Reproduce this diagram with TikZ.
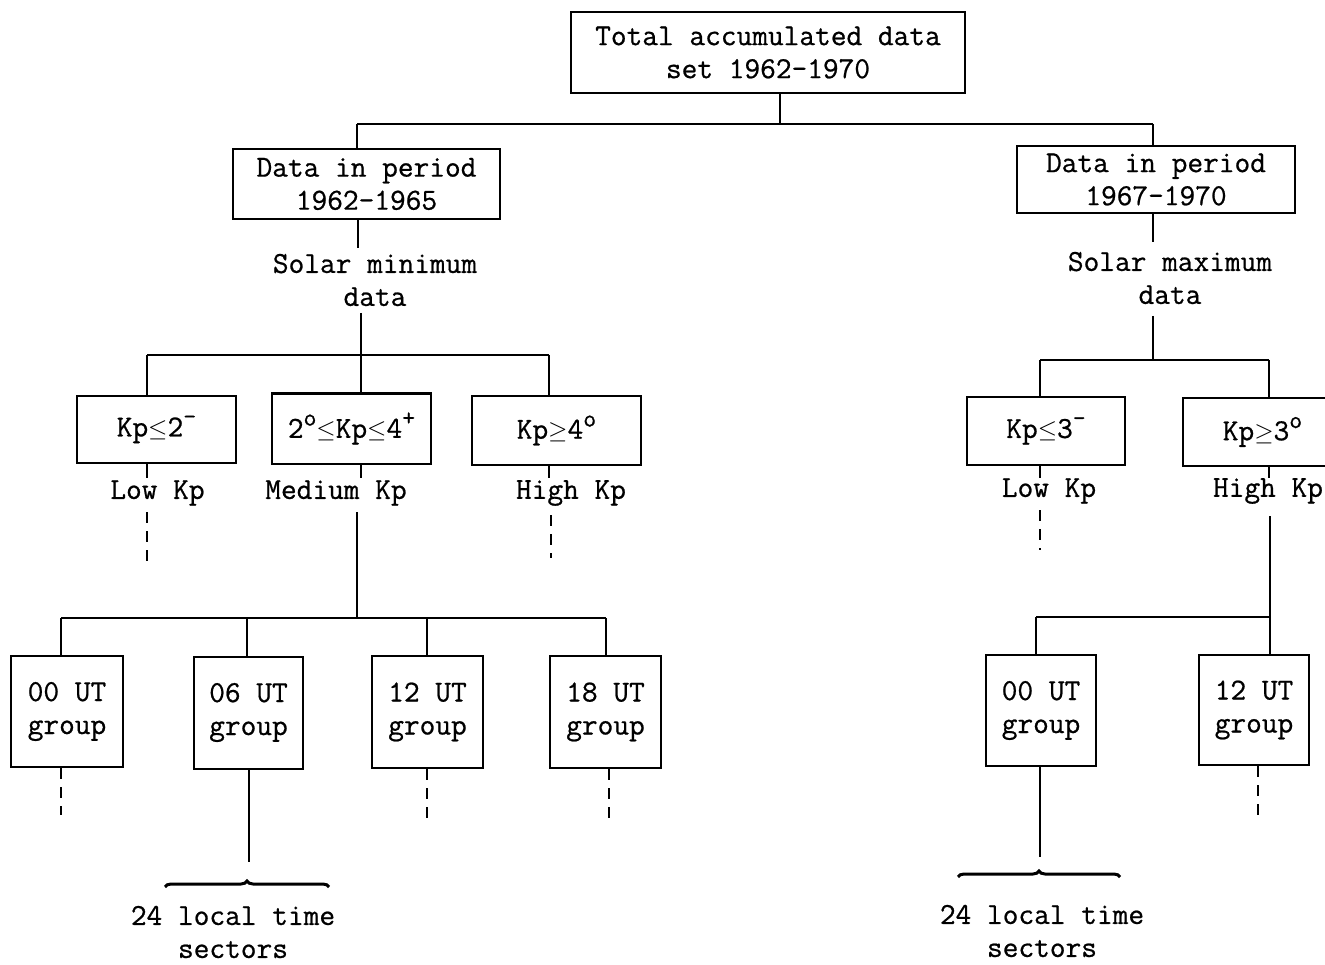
\documentclass[tikz,border=0pt]{standalone}
\usepackage{fontspec}
\newfontfamily\twfont[FakeBold=0.7]{Latin Modern Mono}
\usetikzlibrary{decorations.pathreplacing}
\newcommand{\supr}[1]{\raisebox{0.4em}{\fontsize{25}{25}\selectfont #1}}
\begin{document}
\begin{tikzpicture}[x=1pt,y=-1pt,line width=2pt,
  every node/.style={font=\twfont\fontsize{30.5}{33}\selectfont, align=center, inner sep=0pt},
  box/.style={draw, line width=2pt},
  dsh/.style={dash pattern=on 11pt off 8pt},
  brc/.style={decorate, decoration={brace, amplitude=6pt}, line width=3pt}]
\useasboundingbox (0,0) rectangle (1325,965);
\clip (0,0) rectangle (1325,965);
% top
\node[box, minimum width=394, minimum height=81] (T) at (768,52.5) {Total accumulated data\\set 1962-1970};
\node[box, minimum width=267, minimum height=70] (L1) at (366.5,184) {Data in period\\1962-1965};
\node[box, minimum width=278, minimum height=67] (R1) at (1156,179.5) {Data in period\\1967-1970};
\coordinate (hT) at (780,124);
\coordinate (hL) at (357,124);
\coordinate (hR) at (1153,124);
\draw (hL) -- (hR);
\draw (T.south -| hT) -- (hT);
\draw (hL) -- (L1.north -| hL);
\draw (hR) -- (R1.north -| hR);
% solar labels
\node (smin) at (375,280) {Solar minimum\\data};
\node (smax) at (1170,278) {Solar maximum\\data};
\coordinate (sminT) at (358,248);
\coordinate (sminB) at (361,313);
\coordinate (smaxT) at (1153,242);
\coordinate (smaxB) at (1153,316);
\draw (L1.south -| sminT) -- (sminT);
\draw (R1.south -| smaxT) -- (smaxT);
% Kp boxes left
\node[box, minimum width=159, minimum height=67] (K1) at (156.5,429.5) {Kp$\le$2\supr{-}};
\node[box, minimum width=159, minimum height=70] (K2) at (351.5,428.5) {2\supr{o}$\le$Kp$\le$4\supr{+}};
\node[box, minimum width=169, minimum height=69] (K3) at (556.5,430.5) {Kp$\ge$4\supr{o}};
\coordinate (kJ) at (361,355);
\coordinate (kL) at (147,355);
\coordinate (kR) at (549,355);
\draw (sminB) -- (kJ);
\draw (kL) -- (kR);
\draw (kL) -- (K1.north -| kL);
\draw (kJ) -- (K2.north -| kJ);
\draw (kR) -- (K3.north -| kR);
% Kp labels left
\node (lo1) at (157.5,493) {Low Kp};
\node (me1) at (336,493) {Medium Kp};
\node (hi1) at (571,493) {High Kp};
\coordinate (t1) at (147,478);
\coordinate (t2) at (361,478);
\coordinate (t3) at (549,478);
\draw (K1.south -| t1) -- (t1);
\draw (K2.south -| t2) -- (t2);
\draw (K3.south -| t3) -- (t3);
\coordinate (d1a) at (147,512); \coordinate (d1b) at (147,568);
\coordinate (m1a) at (357,512); \coordinate (m1b) at (357,618);
\coordinate (d3a) at (551,515); \coordinate (d3b) at (551,558);
\draw[dsh] (d1a) -- (d1b);
\draw (m1a) -- (m1b);
\draw[dsh] (d3a) -- (d3b);
% UT boxes left
\coordinate (uL) at (61,618);
\coordinate (uR) at (606,618);
\coordinate (u2) at (247,618);
\coordinate (u3) at (427,618);
\draw (uL) -- (uR);
\node[box, minimum width=112, minimum height=111] (U1) at (67,711.5) {00 UT\\group};
\node[box, minimum width=109, minimum height=112] (U2) at (248.5,712.5) {06 UT\\group};
\node[box, minimum width=111, minimum height=112] (U3) at (427.5,712) {12 UT\\group};
\node[box, minimum width=111, minimum height=112] (U4) at (605.5,712) {18 UT\\group};
\draw (uL) -- (U1.north -| uL);
\draw (u2) -- (U2.north -| u2);
\draw (u3) -- (U3.north -| u3);
\draw (uR) -- (U4.north -| uR);
\coordinate (e1) at (61,815);
\coordinate (e2) at (249,862);
\coordinate (e3) at (427,820);
\coordinate (e4) at (609,820);
\draw[dsh] (U1.south -| e1) -- (e1);
\draw (U2.south -| e2) -- (e2);
\draw[dsh] (U3.south -| e3) -- (e3);
\draw[dsh] (U4.south -| e4) -- (e4);
\coordinate (b1a) at (165,887);
\coordinate (b1b) at (329,887);
\draw[brc] (b1a) -- (b1b);
\node (lt1) at (233,932) {24 local time\\sectors};
% right Kp boxes
\draw (R1.south -| smaxT) -- (smaxT);
\coordinate (kJ2) at (1153,360);
\coordinate (kL2) at (1040,360);
\coordinate (kR2) at (1269,360);
\draw (smaxB) -- (kJ2);
\draw (kL2) -- (kR2);
\node[box, minimum width=158, minimum height=68] (K4) at (1046,431) {Kp$\le$3\supr{-}};
\node[box, minimum width=159, minimum height=68] (K5) at (1262.5,432) {Kp$\ge$3\supr{o}};
\draw (kL2) -- (K4.north -| kL2);
\draw (kR2) -- (K5.north -| kR2);
\node (lo2) at (1049,491) {Low Kp};
\node (hi2) at (1268,491) {High Kp};
\coordinate (t4) at (1040,478);
\coordinate (t5) at (1269,478);
\draw (K4.south -| t4) -- (t4);
\draw (K5.south -| t5) -- (t5);
\coordinate (d4a) at (1040,510); \coordinate (d4b) at (1040,550);
\coordinate (m2a) at (1270,516); \coordinate (m2b) at (1270,617);
\draw[dsh] (d4a) -- (d4b);
\draw (m2a) -- (m2b);
\coordinate (uL2) at (1036,617);
\draw (uL2) -- (m2b);
\node[box, minimum width=110, minimum height=111] (U5) at (1041,710.5) {00 UT\\group};
\node[box, minimum width=110, minimum height=110] (U6) at (1254,710) {12 UT\\group};
\draw (uL2) -- (U5.north -| uL2);
\draw (m2b) -- (U6.north -| m2b);
\coordinate (e5) at (1040,857);
\coordinate (e6) at (1258,818);
\draw (U5.south -| e5) -- (e5);
\draw[dsh] (U6.south -| e6) -- (e6);
\coordinate (b2a) at (958,877);
\coordinate (b2b) at (1120,877);
\draw[brc] (b2a) -- (b2b);
\node (lt2) at (1042,931) {24 local time\\sectors};
\end{tikzpicture}
\end{document}
